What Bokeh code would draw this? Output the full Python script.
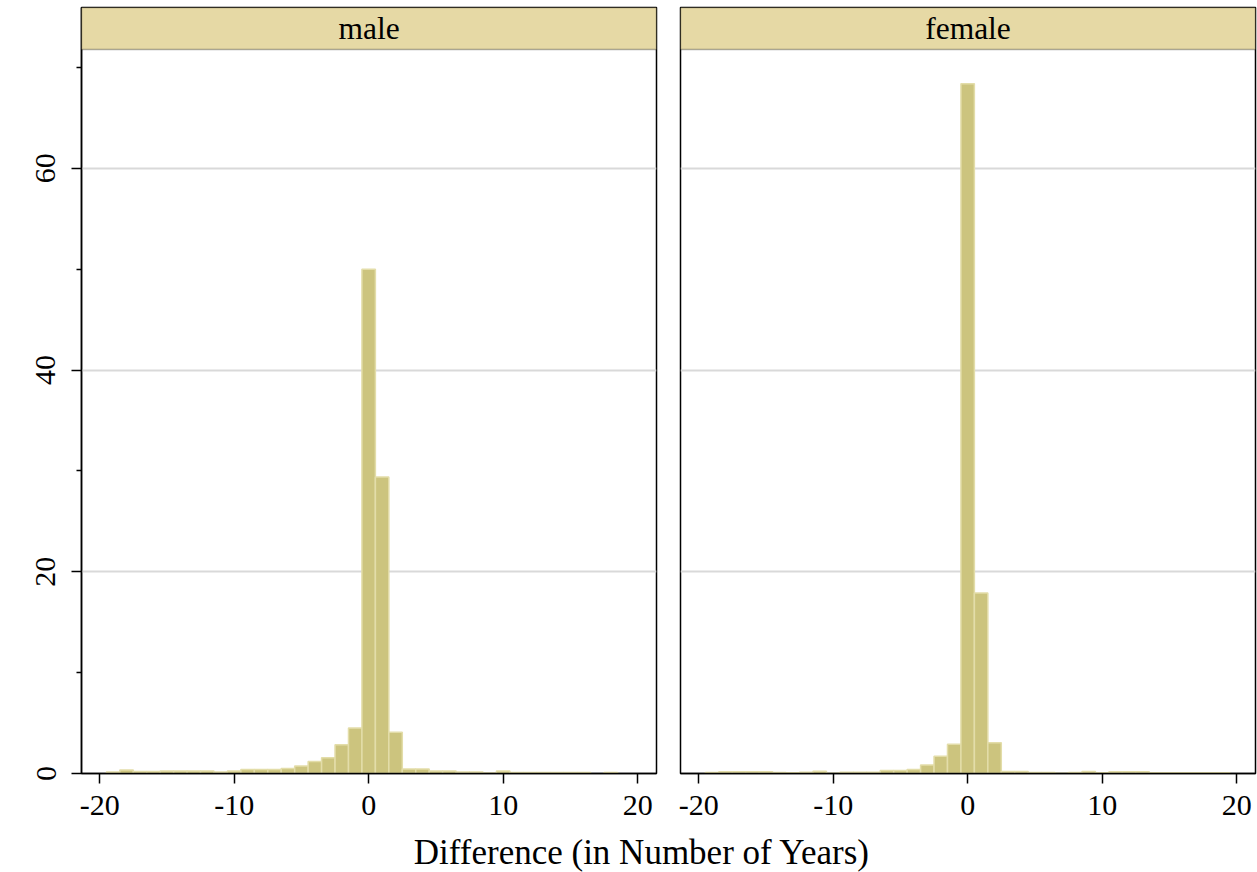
from bokeh.plotting import figure
from bokeh.layouts import column, row
from bokeh.models import Range1d, FixedTicker, BoxAnnotation, Label, Grid, ColumnDataSource
from bokeh.embed import file_html
from bokeh.resources import INLINE

# ---- data (percent of respondents per 1-year difference bin) ----
bins = list(range(-19, 20))
male_pct = [0.15, 0.35, 0.2, 0.2, 0.25, 0.25, 0.25, 0.25, 0.15, 0.25,
            0.4, 0.4, 0.4, 0.5, 0.75, 1.2, 1.55, 2.85, 4.5,
            50.0, 29.4, 4.1,
            0.45, 0.45, 0.25, 0.25, 0.15, 0.15, 0.05, 0.25,
            0.1, 0.1, 0.1, 0.1, 0.1, 0.1, 0.0, 0.1, 0.0]
female_pct = [0.1, 0.17, 0.17, 0.17, 0.17, 0.1, 0.07, 0.13, 0.23, 0.03,
              0.13, 0.13, 0.13, 0.3, 0.3, 0.4, 0.85, 1.7, 2.9,
              68.4, 17.9, 3.05,
              0.2, 0.2, 0.1, 0.1, 0.03, 0.1, 0.2, 0.07,
              0.17, 0.17, 0.17, 0.07, 0.07, 0.07, 0.07, 0.07, 0.07]
panels = ["male", "female"]
x_ticks = [-20, -10, 0, 10, 20]
x_tick_labels = ["-20", "-10", "0", "10", "20"]
y_ticks = [0, 20, 40, 60]
y_minor = [10, 30, 50, 70]
x_title = "Difference (in Number of Years)"

SERIF = "Liberation Serif"
BAR_FILL = "#ccc47e"
BAR_LINE = "#e3dda9"
HEADER_FILL = "#e6d9a5"
GRID = "#d9d9d9"

X_LO, X_HI = -21.35, 21.4
Y_TOP = 75.95
HEADER_BOTTOM = 71.79


def make_panel(name, vals, left_axis):
    if left_axis:
        width, mbl, mbr = 668, 81, 12
    else:
        width, mbl, mbr = 589, 12, 2
    p = figure(width=width, height=833,
               x_range=Range1d(X_LO, X_HI), y_range=Range1d(0, Y_TOP),
               output_backend="svg", toolbar_location=None,
               y_axis_location="left" if left_axis else None,
               min_border_left=mbl, min_border_right=mbr,
               min_border_top=7, min_border_bottom=60)
    p.background_fill_color = "white"
    p.border_fill_color = "white"
    p.outline_line_color = "black"
    p.outline_line_width = 1.5
    p.xgrid.visible = False
    p.ygrid.visible = False
    p.add_layout(Grid(dimension=1, ticker=FixedTicker(ticks=[t for t in y_ticks if t > 0]),
                      grid_line_color=GRID, grid_line_width=2))

    xs = [b for b, v in zip(bins, vals) if v > 0]
    tops = [v for v in vals if v > 0]
    src = ColumnDataSource(dict(x=xs, top=tops))
    p.vbar(x="x", top="top", bottom=0, width=1.0, source=src,
           fill_color=BAR_FILL, line_color=BAR_LINE, line_width=1.5)

    xa = p.xaxis[0]
    xa.ticker = FixedTicker(ticks=x_ticks)
    xa.major_label_overrides = {t: s for t, s in zip(x_ticks, x_tick_labels)}
    xa.major_tick_out = 10
    xa.major_tick_in = 0
    xa.minor_tick_line_color = None
    xa.axis_line_color = "black"
    xa.axis_line_width = 1.5
    xa.major_tick_line_width = 1.5
    xa.major_label_text_font = SERIF
    xa.major_label_text_font_size = "30px"
    xa.major_label_text_color = "black"
    xa.major_label_standoff = 12

    if left_axis:
        ya = p.yaxis[0]
        ya.ticker = FixedTicker(ticks=y_ticks, minor_ticks=y_minor)
        ya.major_tick_out = 10
        ya.major_tick_in = 0
        ya.minor_tick_out = 5
        ya.minor_tick_in = 0
        ya.axis_line_color = "black"
        ya.axis_line_width = 1.5
        ya.major_tick_line_width = 1.5
        ya.minor_tick_line_width = 1.5
        ya.major_label_orientation = "vertical"
        ya.major_label_text_font = SERIF
        ya.major_label_text_font_size = "30px"
        ya.major_label_text_color = "black"
        ya.major_label_standoff = 16

    p.add_layout(BoxAnnotation(bottom=HEADER_BOTTOM, fill_color=HEADER_FILL, fill_alpha=1.0,
                               line_color="black", line_width=1.5, level="overlay"))
    p.add_layout(Label(x=(X_LO + X_HI) / 2, y=(HEADER_BOTTOM + Y_TOP) / 2, text=name,
                       text_align="center", text_baseline="middle",
                       text_font=SERIF, text_font_size="31.5px", text_color="black",
                       level="overlay"))
    return p


p1 = make_panel(panels[0], male_pct, True)
p2 = make_panel(panels[1], female_pct, False)

p3 = figure(width=1257, height=39, x_range=Range1d(0, 1257), y_range=Range1d(0, 39),
            output_backend="svg", toolbar_location=None,
            x_axis_location=None, y_axis_location=None,
            min_border=0, outline_line_color=None)
p3.xgrid.visible = False
p3.ygrid.visible = False
p3.add_layout(Label(x=641.5, y=20, text=x_title, text_align="center", text_baseline="middle",
                    text_font=SERIF, text_font_size="35px", text_color="black"))

layout = column(row(p1, p2), p3)
open("out.html", "w").write(file_html(layout, INLINE))
